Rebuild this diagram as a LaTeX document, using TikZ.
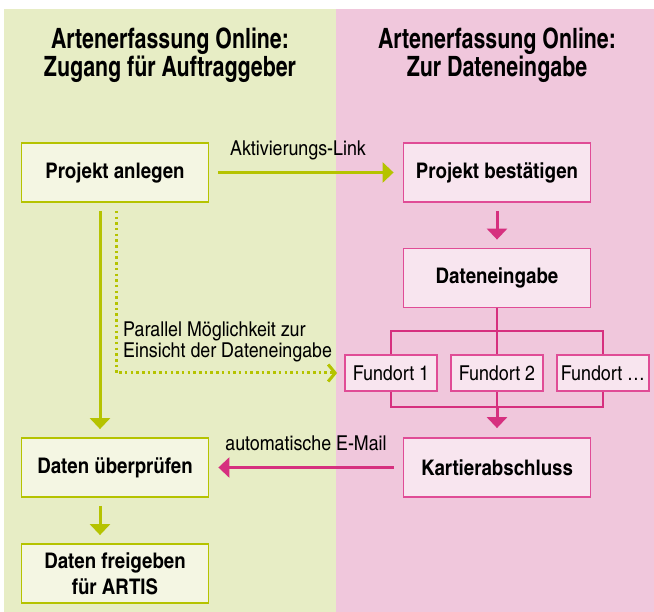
\documentclass[tikz,border=0pt]{standalone}
\usepackage{fontspec}
\setmainfont{texgyreheroscn}[Extension=.otf, UprightFont=*-regular, BoldFont=*-bold, FakeStretch=1.06]
\newfontfamily\titelschrift{texgyreheroscn}[Extension=.otf, UprightFont=*-bold, FakeStretch=0.93]
\usepackage{tikz}
\usetikzlibrary{arrows.meta,positioning}

\definecolor{gruenbg}{HTML}{E7EDC5}
\definecolor{gruenbox}{HTML}{F4F6E3}
\definecolor{gruenlinie}{HTML}{B5C300}
\definecolor{rosabg}{HTML}{F0C7DC}
\definecolor{rosabox}{HTML}{F8E5EF}
\definecolor{rosarand}{HTML}{E04C96}
\definecolor{rosalinie}{HTML}{D6307F}

\tikzset{
	titel/.style={font=\titelschrift\fontsize{28}{25}\selectfont, align=center},
	gbox/.style={draw=gruenlinie, fill=gruenbox, line width=1.8pt, minimum width=187pt, minimum height=59pt, align=center, font=\fontsize{21.5}{26}\selectfont\bfseries},
	rbox/.style={gbox, draw=rosarand, fill=rosabox},
	fbox/.style={draw=rosarand, fill=rosabox, line width=1.8pt, minimum width=92pt, minimum height=36pt, font=\fontsize{20.5}{22}\selectfont},
	beschr/.style={font=\fontsize{20.5}{21.5}\selectfont, align=left, inner sep=0pt},
	gpfeil/.style={draw=gruenlinie, line width=3pt, -{Triangle[length=11pt,width=20pt]}},
	rpfeil/.style={draw=rosalinie, line width=3pt, -{Triangle[length=11pt,width=20pt]}},
	rlinie/.style={draw=rosalinie, line width=2.8pt},
}

\begin{document}
\begin{tikzpicture}[x=1pt, y=-1pt]
		
		\useasboundingbox (0,0) rectangle (654,612);
		\fill[gruenbg] (4,9) rectangle (336,612);
		\fill[rosabg] (336,9) rectangle (654,612);
		
		\node[titel] (t1) at (170,55.5) {Artenerfassung Online:\\Zugang für Auftraggeber};
		
		\node[titel] (t2) at (497,55.5) {Artenerfassung Online:\\Zur Dateneingabe};
		
		\node[gbox] (anlegen) at (115,172.5) {Projekt anlegen};
		
		\node[rbox] (bestaetigen) at (497,172.5) {Projekt bestätigen};
		
		\node[rbox] (eingabe) at (497,278) {Dateneingabe};
		
		\node[fbox] (f1) at (391,373) {Fundort 1};
		
		\node[fbox] (f2) at (497,373) {Fundort 2};
		
		\node[fbox] (f3) at (603,373) {Fundort \dots};
		
		\node[rbox] (abschluss) at (497,467.5) {Kartierabschluss};
		
		\node[gbox] (pruefen) at (115,467.5) {Daten überprüfen};
		
		\node[gbox] (freigeben) at (115,573.5) {Daten freigeben\\für ARTIS};
		
		\coordinate (gx) at (100,0);
		\coordinate (dx) at (116,0);
		\coordinate (oben) at (497,331);
		\coordinate (unten) at (497,407);
		
		\draw[gpfeil, shorten <=9pt, shorten >=9pt] (anlegen) -- node[beschr, above=15pt, text depth=0pt, xshift=-8pt] (link) {Aktivierungs-Link} (bestaetigen);
		
		\draw[rpfeil, shorten <=9pt, shorten >=9pt] (abschluss) -- node[beschr, above=15pt, text depth=0pt] (mail) {automatische E-Mail} (pruefen);
		
		\draw[gpfeil, shorten <=8pt, shorten >=8pt] (anlegen.south -| gx) -- (pruefen.north -| gx);
		
		\draw[gpfeil, shorten <=8pt, shorten >=8pt] (pruefen.south -| gx) -- (freigeben.north -| gx);
		
		\draw[rpfeil, shorten <=8pt, shorten >=8pt] (bestaetigen) -- (eingabe);
		
		\draw[gruenlinie, line width=3pt, dash pattern=on 2.5pt off 3.2pt, shorten <=8pt, shorten >=7pt, -{Straight Barb[length=7pt,width=17pt,line width=3pt]}] (anlegen.south -| dx) |- (f1.west);
		
		\node[beschr, anchor=west] (parallel) at (123,342) {Parallel Möglichkeit zur\\Einsicht der Dateneingabe};
		
		\draw[rlinie] (eingabe) -- (oben);
		\draw[rlinie] (f1) -- (f1 |- oben) -- (f3 |- oben) -- (f3);
		\draw[rlinie] (f2) -- (oben);
		\draw[rlinie] (f1) -- (f1 |- unten) -- (f3 |- unten) -- (f3);
		\draw[rlinie] (f2) -- (unten);
		\draw[rpfeil, shorten >=9pt] (unten) -- (abschluss);
		
		\node[fbox] at (f1) {Fundort 1};
		\node[fbox] at (f2) {Fundort 2};
		\node[fbox] at (f3) {Fundort \dots};
		\node[rbox] at (eingabe) {Dateneingabe};
		\node[rbox] at (abschluss) {Kartierabschluss};
		
	\end{tikzpicture}
\end{document}
